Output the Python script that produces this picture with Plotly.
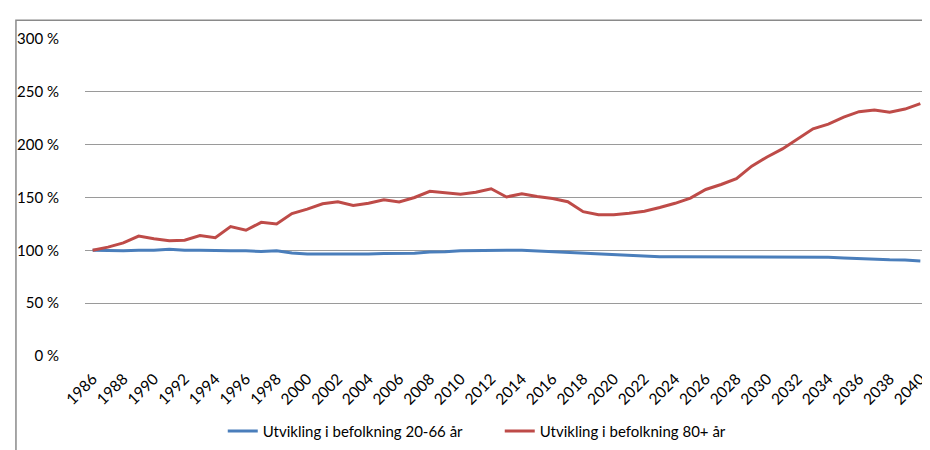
import plotly.graph_objects as go

years = list(range(1986, 2041))

# Utvikling i befolkning 20-66 år (index, 1986 = 100 %)
pop_20_66 = [
    100, 99.5, 99.5, 100, 100, 101, 100, 100, 99.5, 99.5,
    99.5, 99, 99.5, 97.5, 96.5, 96.5, 96.5, 95.8, 96.5, 97,
    97, 97.2, 98.5, 98.7, 99.7, 100, 100, 100, 100, 99.3,
    98.7, 98, 97.3, 96.7, 96, 95.2, 94.3, 94, 94, 94,
    94, 93.5, 93.5, 93.5, 93.5, 93.5, 93.5, 93.5, 93.5, 92.8,
    92, 91.8, 91, 90.8, 90,
]

# Utvikling i befolkning 80+ år (index, 1986 = 100 %)
pop_80_plus = [
    100, 103, 107, 113.5, 111, 109, 109.5, 114, 112, 122.5,
    119, 126.5, 125, 134.8, 139, 144, 146, 142.5, 144.5, 147.8,
    145.8, 150, 155.8, 154.3, 153, 155, 158.3, 150.5, 153.6, 151,
    149, 146, 136.6, 133.6, 133.6, 135, 137, 140.5, 144.5, 149.4,
    157.6, 162.3, 167.8, 179.7, 188.3, 196, 205.2, 215, 219.5, 226,
    231.2, 232.8, 230.6, 233.7, 238.8,
]

series_names = ["Utvikling i befolkning 20-66 år", "Utvikling i befolkning 80+ år"]
series_colors = ["#4a7ebb", "#be4b48"]

y_ticks = [0, 50, 100, 150, 200, 250, 300]
y_labels = [f"{v} %" for v in y_ticks]
x_ticks = list(range(1986, 2041, 2))

FONT = "Lato, 'Liberation Sans', sans-serif"

fig = go.Figure()
for name, values, color in zip(series_names, [pop_20_66, pop_80_plus], series_colors):
    fig.add_trace(
        go.Scatter(
            x=years,
            y=values,
            mode="lines",
            name=name,
            line=dict(color=color, width=3),
        )
    )

fig.update_xaxes(
    range=[1985.5, 2040.5],
    tickvals=x_ticks,
    ticktext=[str(y) for y in x_ticks],
    tickangle=-45,
    showgrid=False,
    zeroline=False,
    showline=False,
    ticks="",
    ticklabelstandoff=10,
    tickfont=dict(size=15.5, color="#000000"),
)
fig.update_yaxes(
    range=[0, 300],
    tickvals=y_ticks,
    ticktext=y_labels,
    showgrid=True,
    gridcolor="#9a9a9a",
    gridwidth=1,
    zeroline=False,
    showline=False,
    ticks="",
    ticklabelstandoff=25,
    tickfont=dict(size=15, color="#000000"),
)

# outer chart frame (only top and left edges are visible in the crop)
fig.add_shape(
    type="rect",
    xref="paper",
    yref="paper",
    x0=-0.0819,
    x1=1.3,
    y0=-0.6,
    y1=1.0594,
    line=dict(color="#8a8a8a", width=1.5),
    layer="above",
)

fig.update_layout(
    width=930,
    height=450,
    margin=dict(l=77, r=10, t=31, b=94),
    paper_bgcolor="#ffffff",
    plot_bgcolor="#ffffff",
    font=dict(family=FONT, size=15, color="#000000"),
    showlegend=True,
    legend=dict(
        orientation="h",
        x=0.492,
        xanchor="center",
        y=-0.237,
        yanchor="middle",
        font=dict(size=15),
        itemwidth=30,
        entrywidth=232,
        entrywidthmode="pixels",
        bgcolor="rgba(0,0,0,0)",
    ),
)

fig.write_html("out.html")
